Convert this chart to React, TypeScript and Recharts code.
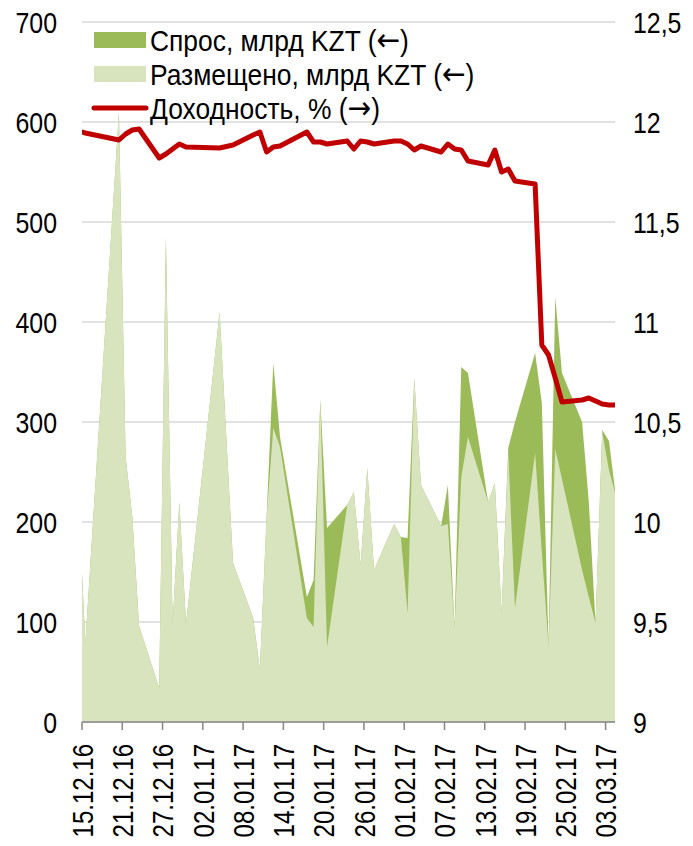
import { ComposedChart, Area, Line, XAxis, YAxis, CartesianGrid } from 'recharts';

const FONT = "'Liberation Sans', Arial, sans-serif";
const NARROW = 0.8; // the original uses a narrow face; squeeze Liberation Sans to match

// auction dates (dd.mm.yy)
const dates = [
  '14.12.16', '15.12.16', '20.12.16', '21.12.16', '22.12.16', '23.12.16', '26.12.16', '27.12.16',
  '28.12.16', '29.12.16', '30.12.16', '04.01.17', '06.01.17', '09.01.17', '10.01.17', '11.01.17',
  '12.01.17', '13.01.17', '17.01.17', '18.01.17', '19.01.17', '20.01.17', '23.01.17', '24.01.17',
  '25.01.17', '26.01.17', '27.01.17', '30.01.17', '31.01.17', '01.02.17', '02.02.17', '03.02.17',
  '06.02.17', '07.02.17', '08.02.17', '09.02.17', '10.02.17', '13.02.17', '14.02.17', '15.02.17',
  '16.02.17', '17.02.17', '20.02.17', '21.02.17', '22.02.17', '23.02.17', '24.02.17', '27.02.17',
  '28.02.17', '01.03.17', '02.03.17', '03.03.17', '04.03.17'
];

// Спрос, млрд KZT
const demand = [
  219, 79, 610, 265, 205, 96, 34, 484,
  98, 220, 98, 410, 159, 104, 52, 205,
  359, 285, 125, 142, 322, 194, 217, 230,
  157, 254, 152, 198, 185, 184, 344, 237,
  196, 237, 94, 355, 349, 220, 239, 109,
  274, 300, 369, 319, 76, 425, 349, 300,
  220, 99, 292, 281, 227
];

// Размещено, млрд KZT
const placed = [
  219, 79, 610, 265, 205, 96, 34, 484,
  98, 220, 98, 410, 159, 104, 52, 205,
  294, 275, 104, 95, 322, 75, 217, 230,
  157, 254, 152, 198, 185, 109, 344, 237,
  196, 198, 94, 245, 285, 220, 239, 109,
  270, 114, 269, 170, 76, 273, 243, 152,
  125, 99, 290, 252, 227
];

// Доходность, %
const yieldPct = [
  11.955, 11.945, 11.91, 11.94, 11.96, 11.965, 11.82, 11.84,
  11.865, 11.89, 11.875, 11.87, 11.885, 11.935, 11.95, 11.85,
  11.875, 11.88, 11.95, 11.9, 11.9, 11.89, 11.905, 11.865,
  11.905, 11.9, 11.89, 11.905, 11.905, 11.89, 11.86, 11.88,
  11.85, 11.89, 11.865, 11.86, 11.805, 11.785, 11.86, 11.75,
  11.765, 11.705, 11.69, 10.885, 10.835, 10.72, 10.6, 10.61,
  10.62, 10.605, 10.59, 10.585, 10.585
];

const tickLabels = [
  '15.12.16', '21.12.16', '27.12.16', '02.01.17', '08.01.17', '14.01.17', '20.01.17',
  '26.01.17', '01.02.17', '07.02.17', '13.02.17', '19.02.17', '25.02.17', '03.03.17'
];
const leftTicks = [0, 100, 200, 300, 400, 500, 600, 700];
const rightTicks = [9, 9.5, 10, 10.5, 11, 11.5, 12, 12.5];

const toDay = (s: string) => {
  const [d, m, y] = s.split('.').map(Number);
  return Date.UTC(2000 + y, m - 1, d) / 86400000;
};
const day0 = toDay(tickLabels[0]);
const xTicks = tickLabels.map((t) => toDay(t) - day0);

// each point sits in the middle of its day
const data = dates.map((d, i) => ({
  x: toDay(d) - day0 + 0.5,
  demand: demand[i],
  placed: placed[i],
  yield: yieldPct[i]
}));

const tickLabelByDay = new Map(xTicks.map((d, i) => [d, tickLabels[i]]));

function DateTick({ x, y, payload }: any) {
  return (
    <g transform={`translate(${x} ${y}) rotate(-90) scale(${NARROW} 1)`}>
      <text x={0} y={0} textAnchor="end" dy="0.36em" fontSize={30} fontFamily={FONT} fill="#000">
        {tickLabelByDay.get(payload.value)}
      </text>
    </g>
  );
}

function ValueTick({ x, y, payload, anchor, format }: any) {
  return (
    <g transform={`translate(${x} ${y}) scale(0.83 1)`}>
      <text x={0} y={0} textAnchor={anchor} dy="0.36em" fontSize={30} fontFamily={FONT} fill="#000">
        {format ? format(payload.value) : payload.value}
      </text>
    </g>
  );
}

const legendItems = [
  { label: 'Спрос, млрд KZT (', arrow: '←', kind: 'area', color: '#9BBB59' },
  { label: 'Размещено, млрд KZT (', arrow: '←', kind: 'area', color: '#D7E4BD' },
  { label: 'Доходность, % (', arrow: '→', kind: 'line', color: '#C00000' }
];

const commaFmt = (v: number) => String(v).replace('.', ',');

export default function App() {
  return (
    <div style={{ position: 'absolute', left: 0, top: 0, width: 693, height: 846, background: '#fff' }}>
      <ComposedChart
        width={693}
        height={846}
        data={data}
        margin={{ top: 22, right: 0, bottom: 0, left: 0 }}
      >
        <CartesianGrid yAxisId="left" vertical={false} stroke="#D9D9D9" strokeWidth={1.5} />
        <XAxis
          dataKey="x"
          type="number"
          domain={[0, 79.4]}
          allowDataOverflow
          ticks={xTicks}
          interval={0}
          height={124}
          tick={<DateTick />}
          tickSize={8}
          tickMargin={14}
          axisLine={{ stroke: '#868686', strokeWidth: 1.5 }}
          tickLine={{ stroke: '#868686', strokeWidth: 1.5 }}
        />
        <YAxis
          yAxisId="left"
          domain={[0, 700]}
          ticks={leftTicks}
          interval={0}
          width={82}
          axisLine={false}
          tickLine={false}
          tickSize={0}
          tickMargin={25}
          tick={<ValueTick anchor="end" />}
        />
        <YAxis
          yAxisId="right"
          orientation="right"
          domain={[9, 12.5]}
          ticks={rightTicks}
          interval={0}
          width={78}
          axisLine={false}
          tickLine={false}
          tickSize={0}
          tickMargin={18}
          tick={<ValueTick anchor="start" format={commaFmt} />}
        />
        <Area
          yAxisId="left"
          type="linear"
          dataKey="demand"
          stroke="none"
          fill="#9BBB59"
          fillOpacity={1}
          isAnimationActive={false}
        />
        <Area
          yAxisId="left"
          type="linear"
          dataKey="placed"
          stroke="none"
          fill="#D7E4BD"
          fillOpacity={1}
          isAnimationActive={false}
        />
        <Line
          yAxisId="right"
          type="linear"
          dataKey="yield"
          stroke="#C00000"
          strokeWidth={5}
          strokeLinejoin="round"
          dot={false}
          activeDot={false}
          isAnimationActive={false}
        />
      </ComposedChart>

      <div style={{ position: 'absolute', left: 90, top: 23, fontFamily: FONT, fontSize: 30, color: '#000' }}>
        {legendItems.map((it) => (
          <div key={it.label} style={{ display: 'flex', alignItems: 'center', height: 34, whiteSpace: 'nowrap' }}>
            <svg width={60} height={34} style={{ flex: 'none' }}>
              {it.kind === 'area' ? (
                <rect x={4} y={9} width={52} height={16} fill={it.color} />
              ) : (
                <line x1={4} y1={17} x2={56} y2={17} stroke={it.color} strokeWidth={5} strokeLinecap="round" />
              )}
            </svg>
            <span
              style={{
                lineHeight: '34px',
                display: 'inline-block',
                transform: 'scaleX(0.88)',
                transformOrigin: 'left center'
              }}
            >
              {it.label}
              <span style={{ fontFamily: "'DejaVu Sans', sans-serif", fontSize: 32 }}>{it.arrow}</span>)
            </span>
          </div>
        ))}
      </div>
    </div>
  );
}
